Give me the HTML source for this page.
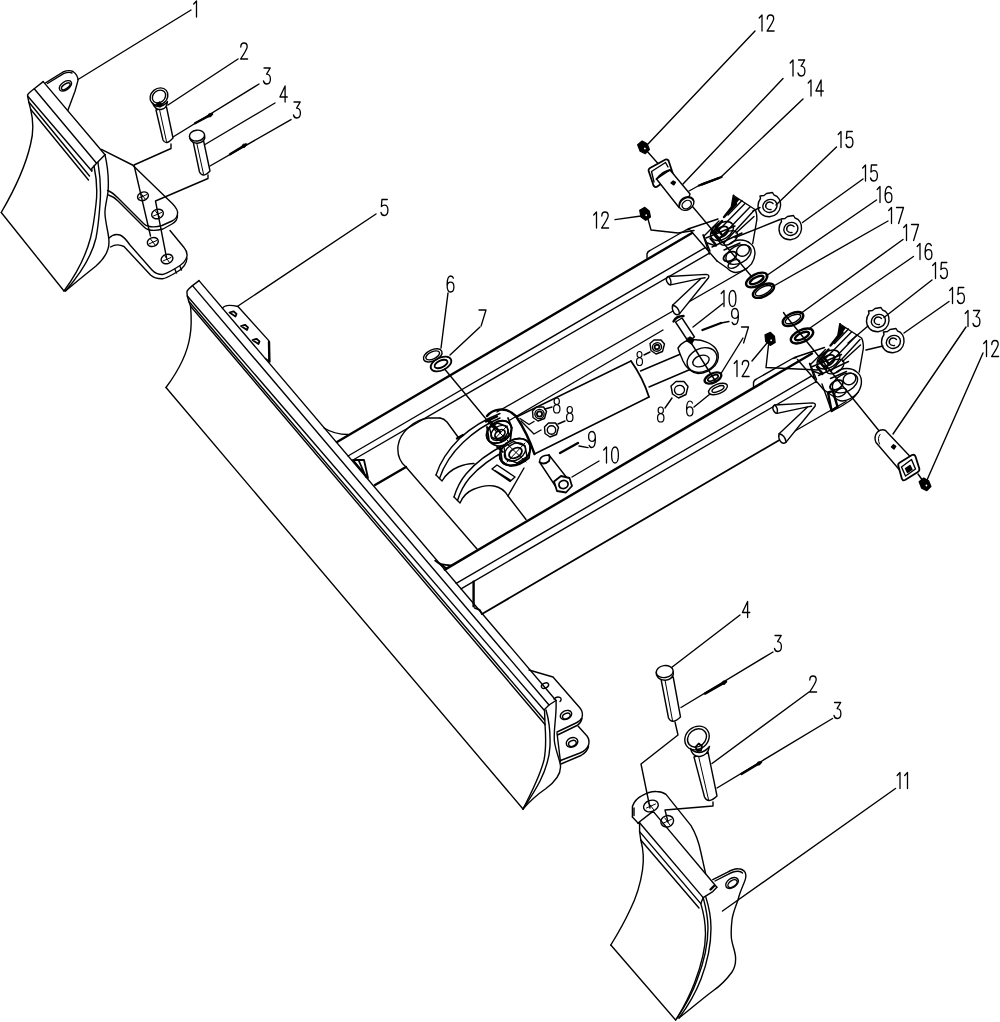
<!DOCTYPE html>
<html><head><meta charset="utf-8"><title>Blade assembly</title>
<style>
html,body{margin:0;padding:0;background:#fff;font-family:"Liberation Sans",sans-serif;}
svg{display:block}
svg *{fill:none;stroke:#000;stroke-width:1.4;stroke-linecap:round;stroke-linejoin:round}
svg .k{stroke-width:2.4}
svg .m{stroke-width:1.8}
svg .w{fill:#fff}
svg .b{fill:#000}
svg .t path{stroke-width:1.3}
svg .h{stroke-width:1}
</style></head><body>
<svg width="1000" height="1022" viewBox="0 0 1000 1022">
<rect x="0" y="0" width="1000" height="1022" style="fill:#fff;stroke:none"/>
<!-- labels -->
<g class="t"><path transform="translate(192.50,1.00) scale(1.000,1.000)" d="M1.2,3 L4,0 L4,16"/></g>
<g class="t"><path transform="translate(240.00,43.00) scale(1.000,1.000)" d="M0.8,4 C0.8,1.4 2,0 4,0 C6,0 7.2,1.4 7.2,3.8 C7.2,6 6,8 0.6,16 L7.6,16"/></g>
<g class="t"><path transform="translate(263.00,68.00) scale(1.000,1.000)" d="M1,0 L7.2,0 L3.6,6.2 C6,6.2 7.4,8 7.4,11 C7.4,14.2 6,16 3.8,16 C2,16 0.9,14.8 0.5,13"/></g>
<g class="t"><path transform="translate(279.50,86.00) scale(1.000,1.000)" d="M5.6,16 L5.6,0 L0.4,11 L7.8,11"/></g>
<g class="t"><path transform="translate(293.00,102.00) scale(1.000,1.000)" d="M1,0 L7.2,0 L3.6,6.2 C6,6.2 7.4,8 7.4,11 C7.4,14.2 6,16 3.8,16 C2,16 0.9,14.8 0.5,13"/></g>
<g class="t"><path transform="translate(380.50,199.50) scale(1.000,1.000)" d="M6.8,0 L1.4,0 L0.9,7 C1.8,6 2.8,5.6 4,5.6 C6.2,5.6 7.4,7.6 7.4,10.6 C7.4,14 6,16 3.8,16 C2,16 0.9,14.8 0.5,13"/></g>
<g class="t"><path transform="translate(446.50,276.00) scale(1.000,1.000)" d="M6.9,2.2 C6.5,0.8 5.5,0 4.2,0 C1.8,0 0.6,3 0.6,9 C0.6,14 1.8,16 4,16 C6.2,16 7.4,14 7.4,11 C7.4,8 6.2,6.2 4,6.2 C2,6.2 0.8,8 0.6,10.4"/></g>
<g class="t"><path transform="translate(478.50,310.00) scale(1.000,1.000)" d="M0.5,0 L7.5,0 L2.6,16"/></g>
<g class="t"><path transform="translate(758.00,15.00) scale(1.000,1.000)" d="M1.2,3 L4,0 L4,16"/><path transform="translate(766.50,15.00) scale(1.000,1.000)" d="M0.8,4 C0.8,1.4 2,0 4,0 C6,0 7.2,1.4 7.2,3.8 C7.2,6 6,8 0.6,16 L7.6,16"/></g>
<g class="t"><path transform="translate(789.00,60.00) scale(1.000,1.000)" d="M1.2,3 L4,0 L4,16"/><path transform="translate(797.50,60.00) scale(1.000,1.000)" d="M1,0 L7.2,0 L3.6,6.2 C6,6.2 7.4,8 7.4,11 C7.4,14.2 6,16 3.8,16 C2,16 0.9,14.8 0.5,13"/></g>
<g class="t"><path transform="translate(807.00,80.00) scale(1.000,1.000)" d="M1.2,3 L4,0 L4,16"/><path transform="translate(815.50,80.00) scale(1.000,1.000)" d="M5.6,16 L5.6,0 L0.4,11 L7.8,11"/></g>
<g class="t"><path transform="translate(837.00,131.50) scale(1.000,1.000)" d="M1.2,3 L4,0 L4,16"/><path transform="translate(845.50,131.50) scale(1.000,1.000)" d="M6.8,0 L1.4,0 L0.9,7 C1.8,6 2.8,5.6 4,5.6 C6.2,5.6 7.4,7.6 7.4,10.6 C7.4,14 6,16 3.8,16 C2,16 0.9,14.8 0.5,13"/></g>
<g class="t"><path transform="translate(861.50,165.00) scale(1.000,1.000)" d="M1.2,3 L4,0 L4,16"/><path transform="translate(870.00,165.00) scale(1.000,1.000)" d="M6.8,0 L1.4,0 L0.9,7 C1.8,6 2.8,5.6 4,5.6 C6.2,5.6 7.4,7.6 7.4,10.6 C7.4,14 6,16 3.8,16 C2,16 0.9,14.8 0.5,13"/></g>
<g class="t"><path transform="translate(876.00,186.50) scale(1.000,1.000)" d="M1.2,3 L4,0 L4,16"/><path transform="translate(884.50,186.50) scale(1.000,1.000)" d="M6.9,2.2 C6.5,0.8 5.5,0 4.2,0 C1.8,0 0.6,3 0.6,9 C0.6,14 1.8,16 4,16 C6.2,16 7.4,14 7.4,11 C7.4,8 6.2,6.2 4,6.2 C2,6.2 0.8,8 0.6,10.4"/></g>
<g class="t"><path transform="translate(887.50,207.50) scale(1.000,1.000)" d="M1.2,3 L4,0 L4,16"/><path transform="translate(896.00,207.50) scale(1.000,1.000)" d="M0.5,0 L7.5,0 L2.6,16"/></g>
<g class="t"><path transform="translate(902.50,224.50) scale(1.000,1.000)" d="M1.2,3 L4,0 L4,16"/><path transform="translate(911.00,224.50) scale(1.000,1.000)" d="M0.5,0 L7.5,0 L2.6,16"/></g>
<g class="t"><path transform="translate(916.00,243.50) scale(1.000,1.000)" d="M1.2,3 L4,0 L4,16"/><path transform="translate(924.50,243.50) scale(1.000,1.000)" d="M6.9,2.2 C6.5,0.8 5.5,0 4.2,0 C1.8,0 0.6,3 0.6,9 C0.6,14 1.8,16 4,16 C6.2,16 7.4,14 7.4,11 C7.4,8 6.2,6.2 4,6.2 C2,6.2 0.8,8 0.6,10.4"/></g>
<g class="t"><path transform="translate(931.50,262.50) scale(1.000,1.000)" d="M1.2,3 L4,0 L4,16"/><path transform="translate(940.00,262.50) scale(1.000,1.000)" d="M6.8,0 L1.4,0 L0.9,7 C1.8,6 2.8,5.6 4,5.6 C6.2,5.6 7.4,7.6 7.4,10.6 C7.4,14 6,16 3.8,16 C2,16 0.9,14.8 0.5,13"/></g>
<g class="t"><path transform="translate(948.50,287.50) scale(1.000,1.000)" d="M1.2,3 L4,0 L4,16"/><path transform="translate(957.00,287.50) scale(1.000,1.000)" d="M6.8,0 L1.4,0 L0.9,7 C1.8,6 2.8,5.6 4,5.6 C6.2,5.6 7.4,7.6 7.4,10.6 C7.4,14 6,16 3.8,16 C2,16 0.9,14.8 0.5,13"/></g>
<g class="t"><path transform="translate(964.00,310.50) scale(1.000,1.000)" d="M1.2,3 L4,0 L4,16"/><path transform="translate(972.50,310.50) scale(1.000,1.000)" d="M1,0 L7.2,0 L3.6,6.2 C6,6.2 7.4,8 7.4,11 C7.4,14.2 6,16 3.8,16 C2,16 0.9,14.8 0.5,13"/></g>
<g class="t"><path transform="translate(982.50,340.50) scale(1.000,1.000)" d="M1.2,3 L4,0 L4,16"/><path transform="translate(991.00,340.50) scale(1.000,1.000)" d="M0.8,4 C0.8,1.4 2,0 4,0 C6,0 7.2,1.4 7.2,3.8 C7.2,6 6,8 0.6,16 L7.6,16"/></g>
<g class="t"><path transform="translate(592.50,212.00) scale(1.000,1.000)" d="M1.2,3 L4,0 L4,16"/><path transform="translate(601.00,212.00) scale(1.000,1.000)" d="M0.8,4 C0.8,1.4 2,0 4,0 C6,0 7.2,1.4 7.2,3.8 C7.2,6 6,8 0.6,16 L7.6,16"/></g>
<g class="t"><path transform="translate(720.00,290.50) scale(1.000,1.000)" d="M1.2,3 L4,0 L4,16"/><path transform="translate(728.50,290.50) scale(1.000,1.000)" d="M4,0 C1.6,0 0.6,3 0.6,8 C0.6,13 1.6,16 4,16 C6.4,16 7.4,13 7.4,8 C7.4,3 6.4,0 4,0 Z"/></g>
<g class="t"><path transform="translate(731.00,308.50) scale(1.000,1.000)" d="M7.4,5.6 C7.2,8 6,9.8 4,9.8 C1.8,9.8 0.6,8 0.6,5 C0.6,2 1.8,0 4,0 C6.2,0 7.4,2 7.4,7 C7.4,13 6.2,16 3.8,16 C2.5,16 1.5,15.2 1.1,13.8"/></g>
<g class="t"><path transform="translate(741.00,327.00) scale(1.000,1.000)" d="M0.5,0 L7.5,0 L2.6,16"/></g>
<g class="t"><path transform="translate(733.00,360.50) scale(1.000,1.000)" d="M1.2,3 L4,0 L4,16"/><path transform="translate(741.50,360.50) scale(1.000,1.000)" d="M0.8,4 C0.8,1.4 2,0 4,0 C6,0 7.2,1.4 7.2,3.8 C7.2,6 6,8 0.6,16 L7.6,16"/></g>
<g class="t"><path transform="translate(636.00,351.50) scale(0.875,0.875)" d="M4,0 C2.2,0 1.2,1.4 1.2,3.4 C1.2,5.4 2.2,7 4,7 C5.8,7 6.8,5.4 6.8,3.4 C6.8,1.4 5.8,0 4,0 Z M4,7 C1.8,7 0.6,9 0.6,11.6 C0.6,14.4 1.8,16 4,16 C6.2,16 7.4,14.4 7.4,11.6 C7.4,9 6.2,7 4,7 Z"/></g>
<g class="t"><path transform="translate(553.00,398.00) scale(0.938,0.938)" d="M4,0 C2.2,0 1.2,1.4 1.2,3.4 C1.2,5.4 2.2,7 4,7 C5.8,7 6.8,5.4 6.8,3.4 C6.8,1.4 5.8,0 4,0 Z M4,7 C1.8,7 0.6,9 0.6,11.6 C0.6,14.4 1.8,16 4,16 C6.2,16 7.4,14.4 7.4,11.6 C7.4,9 6.2,7 4,7 Z"/></g>
<g class="t"><path transform="translate(566.00,406.50) scale(0.938,0.938)" d="M4,0 C2.2,0 1.2,1.4 1.2,3.4 C1.2,5.4 2.2,7 4,7 C5.8,7 6.8,5.4 6.8,3.4 C6.8,1.4 5.8,0 4,0 Z M4,7 C1.8,7 0.6,9 0.6,11.6 C0.6,14.4 1.8,16 4,16 C6.2,16 7.4,14.4 7.4,11.6 C7.4,9 6.2,7 4,7 Z"/></g>
<g class="t"><path transform="translate(657.00,407.00) scale(0.938,0.938)" d="M4,0 C2.2,0 1.2,1.4 1.2,3.4 C1.2,5.4 2.2,7 4,7 C5.8,7 6.8,5.4 6.8,3.4 C6.8,1.4 5.8,0 4,0 Z M4,7 C1.8,7 0.6,9 0.6,11.6 C0.6,14.4 1.8,16 4,16 C6.2,16 7.4,14.4 7.4,11.6 C7.4,9 6.2,7 4,7 Z"/></g>
<g class="t"><path transform="translate(686.00,401.00) scale(0.938,0.938)" d="M6.9,2.2 C6.5,0.8 5.5,0 4.2,0 C1.8,0 0.6,3 0.6,9 C0.6,14 1.8,16 4,16 C6.2,16 7.4,14 7.4,11 C7.4,8 6.2,6.2 4,6.2 C2,6.2 0.8,8 0.6,10.4"/></g>
<g class="t"><path transform="translate(588.00,431.50) scale(1.000,1.000)" d="M7.4,5.6 C7.2,8 6,9.8 4,9.8 C1.8,9.8 0.6,8 0.6,5 C0.6,2 1.8,0 4,0 C6.2,0 7.4,2 7.4,7 C7.4,13 6.2,16 3.8,16 C2.5,16 1.5,15.2 1.1,13.8"/></g>
<g class="t"><path transform="translate(602.50,447.00) scale(1.000,1.000)" d="M1.2,3 L4,0 L4,16"/><path transform="translate(611.00,447.00) scale(1.000,1.000)" d="M4,0 C1.6,0 0.6,3 0.6,8 C0.6,13 1.6,16 4,16 C6.4,16 7.4,13 7.4,8 C7.4,3 6.4,0 4,0 Z"/></g>
<g class="t"><path transform="translate(742.00,601.50) scale(1.000,1.000)" d="M5.6,16 L5.6,0 L0.4,11 L7.8,11"/></g>
<g class="t"><path transform="translate(774.00,635.50) scale(1.000,1.000)" d="M1,0 L7.2,0 L3.6,6.2 C6,6.2 7.4,8 7.4,11 C7.4,14.2 6,16 3.8,16 C2,16 0.9,14.8 0.5,13"/></g>
<g class="t"><path transform="translate(809.00,676.00) scale(1.000,1.000)" d="M0.8,4 C0.8,1.4 2,0 4,0 C6,0 7.2,1.4 7.2,3.8 C7.2,6 6,8 0.6,16 L7.6,16"/></g>
<g class="t"><path transform="translate(833.50,702.50) scale(1.000,1.000)" d="M1,0 L7.2,0 L3.6,6.2 C6,6.2 7.4,8 7.4,11 C7.4,14.2 6,16 3.8,16 C2,16 0.9,14.8 0.5,13"/></g>
<g class="t"><path transform="translate(896.00,772.50) scale(1.000,1.000)" d="M1.2,3 L4,0 L4,16"/><path transform="translate(903.50,772.50) scale(1.000,1.000)" d="M1.2,3 L4,0 L4,16"/></g>
<!-- leaders -->
<line x1="78" y1="79.5" x2="191" y2="10"/>
<line x1="168" y1="105" x2="238" y2="59"/>
<line x1="173" y1="137" x2="259" y2="84"/>
<line class="k" x1="195" y1="123.2" x2="212" y2="114.2"/>
<path class="b" style="stroke-width:0.6" d="M212.6,113.9 L210.7,117.0 L207.0,116.9 L208.9,113.7 Z"/>
<line x1="205" y1="144.5" x2="275" y2="103"/>
<line x1="210" y1="166" x2="291" y2="119.6"/>
<line class="k" x1="230" y1="154.2" x2="246" y2="144.6"/>
<path class="b" style="stroke-width:0.6" d="M246.6,144.2 L244.8,147.5 L241.1,147.5 L242.9,144.3 Z"/>
<line x1="238" y1="306" x2="376" y2="214"/>
<line x1="441" y1="348" x2="448" y2="293"/>
<line x1="450" y1="355" x2="480" y2="327"/>
<line x1="648" y1="144" x2="755" y2="31"/>
<line x1="683" y1="184" x2="783" y2="78.5"/>
<line x1="721" y1="177" x2="803" y2="99"/>
<line x1="776" y1="205" x2="836.5" y2="147"/>
<line x1="802.5" y1="222.5" x2="863" y2="179"/>
<line x1="766" y1="276" x2="876.5" y2="200"/>
<line x1="772" y1="287" x2="888" y2="221"/>
<line x1="800" y1="314" x2="903" y2="239.5"/>
<line x1="810" y1="328" x2="913.5" y2="256.5"/>
<line x1="884" y1="317.5" x2="932" y2="280"/>
<line x1="904" y1="333" x2="949" y2="301.5"/>
<line x1="893" y1="434" x2="966" y2="327"/>
<line x1="927" y1="480" x2="983" y2="353"/>
<line x1="615" y1="219.6" x2="641" y2="216"/>
<line x1="752" y1="361" x2="767" y2="343"/>
<line x1="721" y1="373.5" x2="743" y2="338"/>
<line x1="545" y1="409" x2="552" y2="407"/>
<line x1="558" y1="424" x2="565" y2="421"/>
<line x1="672" y1="398" x2="665" y2="408"/>
<line x1="650" y1="352" x2="644" y2="355"/>
<line x1="694" y1="407" x2="710" y2="394"/>
<line x1="572" y1="477" x2="599" y2="461"/>
<line x1="579" y1="446" x2="588" y2="447.6"/>
<line x1="667" y1="671" x2="740" y2="615"/>
<line x1="681" y1="707.5" x2="773" y2="652"/>
<line class="k" x1="705" y1="693.6" x2="726" y2="681.6"/>
<path class="b" style="stroke-width:0.6" d="M726.6,681.3 L724.8,684.5 L721.1,684.4 L722.9,681.2 Z"/>
<line x1="712" y1="763.5" x2="809" y2="692"/>
<line x1="717" y1="788" x2="832.5" y2="718.5"/>
<line class="k" x1="741.5" y1="774" x2="761" y2="762.2"/>
<path class="b" style="stroke-width:0.6" d="M761.6,761.8 L759.8,765.1 L756.1,765.2 L757.9,761.9 Z"/>
<line x1="722.5" y1="911" x2="895.5" y2="788.5"/>
<!-- main blade -->
<line x1="199" y1="280.6" x2="556" y2="700.5"/>
<line x1="192.5" y1="285.6" x2="549" y2="705"/>
<line x1="187.3" y1="296" x2="544" y2="710"/>
<line x1="188.75" y1="301.25" x2="544.5" y2="720"/>
<line x1="190.6" y1="306.25" x2="545" y2="724.5"/>
<path d="M199,280.6 L192.5,285.6 Q187,290 186.9,292 L187.3,296 L188.75,301.25 L190.6,306.25"/>
<path d="M190.6,306.25 C191.5,318 191.5,328 190,336 C188,350 182,366 166,387.5"/>
<line x1="166" y1="387.5" x2="523" y2="809"/>
<path d="M556,700.5 L549,705 L544.5,709.5 L545,724.5"/>
<path d="M556,700.5 C557,716 553,730 554.5,742 C556,752 560,760 560.5,766 C561,774 556,781 546,788.5 C538,794 530,801 523,809"/>
<path d="M546,710 C549,720 550.5,732 550,746 C549.5,757 545,771 540,781 C535,791 529,800 523,809"/>
<path d="M545,724.5 C546,738 546,750 544,760 C541,772 536,784 523,809"/>
<path d="M222.5,308.5 C224,305 229,304.5 238,306.5 L268.75,340.6 L269.4,361.5 L265.5,358.5"/>
<path class="k" d="M269,342 L269.4,361.5"/>
<path class="m" d="M229.5,312.5 l4,-1.2 l3,2.6 l-1,2.6 z M241,326 l4,-1.2 l3,2.6 l-1,2.6 z M252.5,340 l4,-1.2 l3,2.6 l-1,2.6 z"/>
<path d="M529,670 L553,677 L580,708 Q583.5,712.5 582,717.5 Q580.5,721 576,723 L557,732"/>
<path d="M582,718.5 Q581,723 577,725.5 L557.5,735"/>
<ellipse cx="545" cy="685.6" rx="3.8" ry="2.4" transform="rotate(-25 545 685.6)"/>
<path d="M554,699 a4,2.6 -25 1 1 6,2.6"/>
<ellipse cx="566" cy="715" rx="6" ry="4.3" transform="rotate(-25 566 715)"/>
<ellipse cx="566.4" cy="716" rx="4" ry="2.6" transform="rotate(-25 566.4 716)"/>
<path d="M578,726 L587,736 Q590,740 588.5,745 Q587,750 580,753 L560.5,760.5"/>
<path d="M588.5,746.5 Q587.5,751.5 581,755.5 L561,764"/>
<path d="M557,733 L560.5,762"/>
<ellipse cx="572" cy="742.4" rx="6" ry="4.6" transform="rotate(-25 572 742.4)"/>
<ellipse cx="572.4" cy="743.4" rx="4" ry="2.8" transform="rotate(-25 572.4 743.4)"/>
<!-- arms -->
<line class="k" x1="337" y1="442" x2="692" y2="233"/>
<path d="M324,428 C332,433 340,434.5 348,434.5"/>
<line x1="348" y1="456" x2="704.8" y2="247.8"/>
<line x1="353" y1="460" x2="709" y2="253.4"/>
<line x1="497" y1="412" x2="747" y2="268.5"/>
<line x1="510" y1="420" x2="663" y2="330"/>
<line class="k" x1="444.8" y1="569.6" x2="812" y2="353.5"/>
<path class="m" d="M435.2,560.6 C438,563.5 442,565 450.8,565.4 M438,562.8 L446,568"/>
<line x1="456.2" y1="583.4" x2="811.3" y2="376.2"/>
<line x1="461" y1="588.8" x2="815.5" y2="382"/>
<line class="m" x1="482" y1="614" x2="788" y2="435"/>
<line x1="788" y1="435" x2="846" y2="401.5"/>
<line class="k" x1="473.6" y1="581.6" x2="473.6" y2="606.2"/>
<path class="m" d="M474.8,608 L479.6,609.8 L482,614"/>
<line class="k" x1="375" y1="485" x2="406" y2="467"/>
<path class="m" d="M353,460 L364,460 L368,478 Z M358.5,460 L366,477"/>
<!-- part 1 -->
<line x1="43.2" y1="81.6" x2="105" y2="154.8"/>
<line x1="34.2" y1="88.8" x2="96.6" y2="163.2"/>
<line x1="27.6" y1="96" x2="91.8" y2="171"/>
<line x1="28.8" y1="102" x2="89.5" y2="176"/>
<line x1="30.6" y1="109.2" x2="88.5" y2="180"/>
<path d="M43.2,81.6 L34.2,88.8 Q28,93.5 27.6,95 L27.6,96 L28.8,102 L30.6,109.2"/>
<path d="M105,154.8 L96.6,163.2 L91.8,168.5 L91.8,171"/>
<path d="M45.6,82.8 L63,72 Q69,69.5 73,71.5 Q78,75 78,80.4 L75,91.2 L67.8,110.4"/>
<path d="M47.5,83.5 L63.5,73.6 Q69,71.5 72,73"/>
<ellipse cx="65.4" cy="85.8" rx="7" ry="4" transform="rotate(-35 65.4 85.8)"/>
<ellipse cx="65.8" cy="86.3" rx="5" ry="2.3" transform="rotate(-35 65.8 86.3)"/>
<path d="M30.6,109.2 C33.5,121 33.5,133 30.6,144 C27,160 19,182 1.25,212.5"/>
<line x1="1.25" y1="212.5" x2="64" y2="291"/>
<path d="M94,166 C97,180 97.5,192 96,204 C94.5,218 93,228 90.5,238 C86,255 78,272 64,291"/>
<path d="M98,162.5 C100.5,178 101,192 100,204 C99,218 98,228 96,238 C92,255 82,272 65.5,291"/>
<path d="M105,154.8 C108,168 109,180 108,192 C107,200 104.5,208 105,214 C105.5,224 109,234 109,242 C109,252 104,259 96,266 C86,274 76,282 65.5,291"/>
<path d="M101.4,149.4 L132.5,165 L172.5,203.75 Q178.5,210 177.5,214 Q177,218.5 172,221 L162,225.5 Q154,228 148,226 Q146,226 143.5,223.5 L117.5,197.5 Q112,192 107.5,190.5"/>
<path d="M177.5,215.5 Q177.5,221 172,224 L163,229 Q154,231.5 148,229.5 Q146,229 143.5,226.5 L118,201 Q113.5,196.5 108.5,195"/>
<ellipse cx="143" cy="196.3" rx="5.6" ry="4.2" transform="rotate(-20 143 196.3)"/>
<ellipse cx="157.5" cy="214" rx="6" ry="4.6" transform="rotate(-20 157.5 214)"/>
<path d="M109,238 Q114,233 120,235 Q124,236.5 130,245 L152,270 Q156,274.5 162.5,274.5 Q166,274 176,268 Q186,262.5 187,256 Q187.5,251.5 184,247.5 L170,230.5"/>
<path d="M110.5,247 Q117,243 124,246.5 L150.5,275 Q155,279 162.5,278.75 Q166,278.5 177,272 Q186.5,266.5 187,258"/>
<line x1="175" y1="269.5" x2="176.5" y2="273"/>
<line x1="180" y1="266.5" x2="181.5" y2="270"/>
<ellipse cx="152.8" cy="242" rx="5.6" ry="4.4" transform="rotate(-20 152.8 242)"/>
<ellipse cx="167" cy="259" rx="6" ry="4.6" transform="rotate(-20 167 259)"/>
<path class="h" d="M139,198 L147,194.5 M153.5,216 L161.5,212.5 M148.8,244 L156.8,240.5 M163,261 L171,257.5"/>
<path class="h" d="M141,193.5 L145.5,199.5 M155.5,211 L160,217.5 M150.5,239 L155.5,245.5 M165,256 L169.5,262.5"/>
<path d="M171,144 L171,148.5 L134,165 L150.5,236"/>
<path d="M208,175 L208,178.5 L155.5,201 L166.5,257.5"/>
<path class="w" d="M156,110 L163,140 Q166,146 173,138 L166.5,107 Z"/>
<path class="h" d="M159.5,109.5 L166.5,141.5"/>
<ellipse class="w" cx="159" cy="96.5" rx="9.5" ry="8" transform="rotate(-40 159 96.5)"/>
<ellipse cx="159" cy="96.5" rx="7.2" ry="5.8" transform="rotate(-40 159 96.5)"/>
<path class="w" d="M152.5,103 Q155,110 161,109.5 Q167,108.5 167.5,101.5 Q164,106 159,106.5 Q155,106.5 152.5,103 Z"/>
<path class="b" d="M156.5,104 l3,-2 l2.5,2.5 l-2,2.5 z"/>
<path class="w" d="M193,141 L199.5,172 Q203,178.5 210,171 L203.3,139.5 Z"/>
<path class="h" d="M196.5,142 L203.5,174"/>
<path class="w" d="M189.5,136 L189.8,138.5 Q191.5,143 197.5,143.3 Q203.5,142.5 204.8,138 L204.6,135.6"/>
<ellipse class="w" cx="197" cy="135.6" rx="7.6" ry="5.4" transform="rotate(-8 197 135.6)"/>
<!-- part 11 -->
<path d="M632.4,817 L632.4,806.4 Q635,799 642,795.6 Q650,791 656.4,791.5 Q662,791.5 666,794.4 L691,825.6 C696,834 699,843 700.8,852 L705.6,873.6"/>
<path d="M632.4,817 L638.4,823.5 M634,808 L634,815.5"/>
<path d="M638,823 L651.6,812.4 L654,812.4"/>
<ellipse cx="650.9" cy="806" rx="7.6" ry="5.6" transform="rotate(-20 650.9 806)"/>
<ellipse cx="667.2" cy="821.3" rx="6.5" ry="5.6" transform="rotate(-20 667.2 821.3)"/>
<path class="h" d="M646.5,808 L655.5,804 M648.5,803 L653.5,809.5 M663,823.3 L671.5,819.3 M664.8,818 L669.8,824.8"/>
<line x1="654" y1="812.4" x2="716.9" y2="887.3"/>
<line x1="639.6" y1="822.7" x2="703.2" y2="897.6"/>
<line x1="639.6" y1="831.6" x2="700.8" y2="903.6"/>
<line x1="640.8" y1="840" x2="699" y2="908"/>
<path d="M639.6,822.7 L639.6,831.6 L640.8,840"/>
<path d="M716.9,887.3 L712.8,891.6 L703.2,897.6 L700.8,903.6"/>
<path class="k" d="M714,886 L710.5,889.5"/>
<path d="M640.8,840 C643.5,850 644,860 642.5,870 C640.5,884 636,898 630,910 C624,923 617,935 610.8,945"/>
<line x1="610.8" y1="945" x2="675.6" y2="1020"/>
<path d="M703.2,897.6 C706,908 708,918 708,928 C708,945 704,962 697,980 C692,994 684,1008 675.6,1020"/>
<path d="M700.8,903.6 C704,914 705.5,924 705.5,934 C705.5,950 701,966 694.5,983 C689.5,996 682,1010 676.5,1019"/>
<path d="M705.6,896.4 C709,907 711,918 711,928 C711,946 707.5,962 701,979 C696,992 688,1006 679,1018"/>
<path d="M712.8,879.6 L727.2,872.4 Q734,868.5 738,868.8 Q743,869 745.2,872.4 Q747,877 744,883 C741,890 739,895 738,900 C735,908 732.5,914 732,920 C731,928 731,934 731.5,939 C732.5,946 735.5,952 735.6,958 C735.8,965 734,969 732,972 C727,979 720,986 712.8,991 C702,999 692,1008 679,1018"/>
<path d="M715,881 L728,874.4 Q734,871 738,871.2 Q741,871.4 742.5,873"/>
<ellipse cx="732" cy="883" rx="7" ry="4.6" transform="rotate(-35 732 883)"/>
<ellipse cx="732.5" cy="883.6" rx="5.2" ry="3" transform="rotate(-35 732.5 883.6)"/>
<path d="M675,722 L678,735 L641,764 L650,808"/>
<path d="M713,802 L713,806 L665,810 L668,822"/>
<path class="w" d="M661,679 L668.5,718 Q672,725 680.5,717 L673.2,677 Z"/>
<path class="h" d="M665,680 L672.5,720.5"/>
<path class="w" d="M656.2,672 L656.5,675 Q658.5,680 665.5,680.3 Q672,679.5 673.3,674.5 L673.2,671.6"/>
<ellipse class="w" cx="664.7" cy="671.6" rx="8.5" ry="6" transform="rotate(-8 664.7 671.6)"/>
<path class="w" d="M694,757 L704.5,797 Q708,804.5 717,796 L708,752 Z"/>
<path class="h" d="M698.5,756 L708.5,799.5"/>
<ellipse class="w" cx="697" cy="738" rx="13" ry="11" transform="rotate(-40 697 738)"/>
<ellipse cx="697" cy="738" rx="10.2" ry="8.4" transform="rotate(-40 697 738)"/>
<path class="w" d="M690.5,748.5 Q692.5,757 700,756.5 Q708,755 709.5,746.5 Q705,752 699.5,752.5 Q694,752.5 690.5,748.5 Z"/>
<path class="m" d="M695.5,747 l3.2,-3.5 l3.3,2.5 l-1,4.5 l-3.5,0.5 z"/>
<!-- center -->
<path d="M440,418 L428,418 C414,420 400,432 398,446 C397,456 400,462 406,467 L477,549"/>
<path d="M440,418 Q444,418.5 447,422 L458,437"/>
<line class="k" x1="457" y1="438.5" x2="463" y2="435"/>
<path d="M436,475 C440,462 448,450 460,438 C472,427 486,419 500,413.5"/>
<path d="M439.5,478.5 C443.5,466 451,454 463,442.5 C474,432 488,423 500,418"/>
<path d="M436,475 L442,481 C446,474 451,470 458,467 C464,464.5 470,463.5 474,463.5"/>
<path d="M454,497 C457,487 461,480 466,474 C476,462 490,452 506,444"/>
<path d="M457.5,500.5 C460.5,491 464.5,484 469.5,478 C479,467 492,457.5 508,449.5"/>
<path d="M454,497 L460,503 C463,496 467,492 473,489.5 C480,486.5 488,485 494,486 C500,487 505,491 508,496 L526,519.5"/>
<path d="M508,496 L524,468"/>
<path d="M492,469 L497,465 L515,477 L510,481.5 Z M495,470.5 L511,480.5"/>
<ellipse class="w" cx="499" cy="432" rx="13.5" ry="10" transform="rotate(-35 499 432)"/>
<ellipse class="m" cx="499" cy="432" rx="13.5" ry="10" transform="rotate(-35 499 432)"/>
<ellipse cx="499.5" cy="433" rx="9.5" ry="6.5" transform="rotate(-35 499.5 433)"/>
<ellipse class="m" cx="500" cy="434" rx="5.6" ry="3.6" transform="rotate(-35 500 434)"/>
<path class="m" d="M487,427 L489,441 Q497,450 510,443 L511.5,430"/>
<path d="M489.5,428 L497.5,423 L507,426.5 L509,435 L501,441 L492,437.5 Z"/>
<ellipse class="w" cx="515" cy="452" rx="16.5" ry="12" transform="rotate(-33 515 452)"/>
<ellipse class="m" cx="515" cy="452" rx="16.5" ry="12" transform="rotate(-33 515 452)"/>
<ellipse cx="515" cy="452" rx="11.5" ry="8" transform="rotate(-33 515 452)"/>
<ellipse class="m" cx="515.5" cy="453" rx="7" ry="4.6" transform="rotate(-33 515.5 453)"/>
<path class="m" d="M500,447 L502,461 Q512,472 529,458 L530.5,446"/>
<path d="M504,447 L513.5,441.5 L525,446 L527,456.5 L517,463 L506,458.5 Z"/>
<path class="h" d="M492,425 L508,441 M493.5,440 L507,426 M506,443 L526,462 M507,462 L525,443"/>
<path class="k" d="M487,416 C493,408.5 505,407.5 512,413 L517,417"/>
<path class="k" d="M486,421.5 L497,416.5 M489,420 L500,432"/>
<path class="m" d="M508,418 L512,428 M497,447 L503,452"/>
<line x1="444.6" y1="369" x2="496" y2="431"/>
<line x1="516.5" y1="417" x2="631" y2="361"/>
<line x1="534.5" y1="454" x2="649" y2="397"/>
<path class="k" d="M516.5,417 Q527.5,433.5 534.5,454"/>
<path class="m" d="M631,361 Q643,378 649,397"/>
<path d="M520,418.5 L529,424.5 L534,421.5 M521,421 L534,434 L541,430"/>
<path d="M532.5,411 L536.5,407 L543.5,407 L546.5,411.5 L544.5,418.5 L538,421 L533,417.5 Z"/>
<ellipse cx="539.5" cy="414" rx="4.6" ry="4.6" transform="rotate(0 539.5 414)"/>
<ellipse class="m" cx="539.5" cy="414" rx="2.6" ry="2.6" transform="rotate(0 539.5 414)"/>
<path d="M544.5,427 L548.5,423 L555.5,423 L558.5,427.5 L556.5,434.5 L550,437 L545,433.5 Z"/>
<ellipse cx="551.5" cy="430" rx="4.2" ry="4.2" transform="rotate(0 551.5 430)"/>
<line x1="640.5" y1="371" x2="683" y2="353"/>
<line x1="649" y1="387" x2="690" y2="369.5"/>
<path d="M650,343.5 L654,340 L661,340 L664.5,344 L662.5,351.5 L656,354 L651,350.5 Z"/>
<ellipse cx="657" cy="347" rx="4.6" ry="4.2" transform="rotate(-20 657 347)"/>
<ellipse class="m" cx="657" cy="347" rx="2.4" ry="2.2" transform="rotate(-20 657 347)"/>
<path d="M671,386 L676,381.5 L684,381.5 L688,386.5 L686,394.5 L678.5,398 L672.5,394 Z"/>
<ellipse cx="679.5" cy="390" rx="5" ry="4.6" transform="rotate(-20 679.5 390)"/>
<path class="w" d="M678,348 C682,342 688,339.5 694,339.8 C702,339.5 712,343 716,349 C719.5,354 719,361 715,365.5 C710,371 704,373.5 698,373.5 C692,373 686,368 683,361 C681,356 679,352 678,348 Z"/>
<ellipse cx="702" cy="360" rx="15.5" ry="11.5" transform="rotate(-25 702 360)"/>
<ellipse cx="701" cy="361" rx="8.5" ry="5.4" transform="rotate(-20 701 361)"/>
<path class="w" d="M675.5,322 L688,341 L694.5,337 L682,318 Z"/>
<path class="k" d="M673.5,321.5 Q676,316 683.5,316"/>
<path class="b" d="M686.5,340.5 l3.5,-3.5 l4,2.5 l-2.5,4.5 z"/>
<line x1="688" y1="338" x2="716" y2="382"/>
<ellipse class="k" cx="713" cy="378" rx="9" ry="4.6" transform="rotate(-25 713 378)"/>
<ellipse class="m" cx="713" cy="378" rx="5.6" ry="2.2" transform="rotate(-25 713 378)"/>
<ellipse cx="718" cy="389" rx="10" ry="4.8" transform="rotate(-22 718 389)"/>
<ellipse cx="718" cy="389" rx="6.4" ry="2.4" transform="rotate(-22 718 389)"/>
<ellipse cx="432.7" cy="355.4" rx="10" ry="5.6" transform="rotate(-25 432.7 355.4)"/>
<ellipse cx="432.7" cy="355.4" rx="7.4" ry="3.6" transform="rotate(-25 432.7 355.4)"/>
<ellipse class="m" cx="441" cy="364" rx="11" ry="6.4" transform="rotate(-25 441 364)"/>
<ellipse class="m" cx="441" cy="364" rx="7" ry="3.4" transform="rotate(-25 441 364)"/>
<line class="k" x1="560" y1="453" x2="578" y2="443"/>
<path class="w" d="M539.5,462 Q539.5,457 545,455.5 L549,455 L567,478 L556,487 Z"/>
<path class="m" d="M539.5,462 Q544,465.5 549,461 Q550.5,458 549,455"/>
<path class="w m" d="M554,481.5 L561,476 L569.5,478 L572,486 L566,492.5 L557,491 Z"/>
<ellipse class="m" cx="563.5" cy="484.5" rx="4.6" ry="4" transform="rotate(-20 563.5 484.5)"/>
<line class="k" x1="702.5" y1="330" x2="721" y2="323"/>
<line x1="721" y1="323" x2="729" y2="321.5"/>
<line x1="723" y1="303.5" x2="693" y2="327"/>
<!-- upper right hardware -->
<line x1="646" y1="150" x2="658" y2="163.5"/>
<g transform="translate(643.5,147.5) rotate(-35)"><path class="b" d="M-3.2,-5.5 L2.6,-6 L5,-1 L3.6,5 L-2,6 L-4.8,1 Z"/><circle cx="0.6" cy="1.6" r="0.9" style="fill:#fff;stroke:none"/></g>
<line x1="692.5" y1="206.5" x2="752" y2="277"/>
<g transform="translate(660,170)"><path class="w m" d="M-11.5,0.5 Q-11.5,-1 -10,-2 L5.5,-10.5 Q7,-11 8.5,-9.5 L13.5,5.5 L-3.5,17 Q-5.5,17.5 -6.5,15.5 Z"/><path d="M-6,12 L-8.5,1.5 L5.5,-7.5 L8,-3"/><path class="w" d="M10,0 L30,24 Q27,36 19,37.5 L-3.5,9 Z"/><path d="M10,0 Q3,1.5 -3.5,9" class="m"/><ellipse class="w" cx="26.5" cy="33.5" rx="8" ry="6.3" transform="rotate(-35 26.5 33.5)"/><path d="M19.5,35.5 Q20,29.5 27,27.5 Q32,27 33.2,30.5" /><ellipse cx="26.7" cy="34.6" rx="5" ry="3.8" transform="rotate(-35 26.7 34.6)"/><path class="b" d="M11,13 l2.2,-2 l2.2,1.4 l-1.6,2.4 z"/></g>
<line x1="689" y1="191" x2="699" y2="185.5"/>
<line class="k" x1="699" y1="185.5" x2="721.5" y2="177"/>
<line class="k" x1="702" y1="184.4" x2="719" y2="178"/>
<path d="M648,219 L651,230 L678,233 L694,230.5"/>
<g transform="translate(645,214) rotate(-25)"><path class="b" d="M-3.2,-5.5 L2.6,-6 L5,-1 L3.6,5 L-2,6 L-4.8,1 Z"/><circle cx="0.6" cy="1.6" r="0.9" style="fill:#fff;stroke:none"/></g>
<path d="M647,258 L647,254 Q647.5,251.5 650,250.5 L686,230 L690,229"/>
<path d="M688,229 L718,219 M691,231 L717,261 M703,235 L709.5,254"/>
<g transform="translate(0,0)"><path d="M733.5,195.5 L755,209.5 Q756.8,212 756.9,219.5 L752.7,243.5"/><path class="m" d="M725,215.5 L731.5,207 L733.5,195.5"/><path d="M734,197 L732,208 L738.5,199.5 Z" class="b"/><path d="M742,200.5 L728,215 M745,203.5 L716,233 M750,207 L720,238 M753.5,211 L724,243 M754,216.5 L736,233"/><path class="k" d="M736,204 L724,217 M722,221 L712,233"/><ellipse cx="722" cy="231" rx="12.5" ry="8" transform="rotate(-32 722 231)"/><ellipse class="m" cx="721.5" cy="232" rx="7.5" ry="4.6" transform="rotate(-32 721.5 232)"/><ellipse cx="728.5" cy="238" rx="10" ry="6" transform="rotate(-32 728.5 238)"/><path class="k" d="M713,233 L719.5,241 M716,227 L722,235 M710.5,238.5 L716,245"/><path d="M704,236 L719,221 M707.5,243 L716,246 M703.5,235 L710,251"/><path d="M730,243.5 C735,239 745,238.5 750.3,243.5 C756,247.5 756.5,256 751.5,263.9 C747,269 741,272 736,272.5 C732,272.5 729,270 727,268 L717,261"/><ellipse cx="738.5" cy="254.5" rx="13.5" ry="8.6" transform="rotate(-28 738.5 254.5)"/><ellipse class="m" cx="730" cy="256.5" rx="7" ry="4.2" transform="rotate(-28 730 256.5)"/><ellipse cx="743" cy="250.5" rx="6.6" ry="5.4" transform="rotate(-28 743 250.5)"/><ellipse cx="734" cy="264" rx="6.4" ry="3.6" transform="rotate(-28 734 264)"/><path d="M706,238 L735,226 M712,247 L742,233 M724,250 L740,243"/></g>
<g transform="translate(769.5,205)"><path d="M-3,-11.5 L3,-12.5 L4.5,-10 C9,-9 11.5,-4 11,1 C10.5,7 6,11.5 0,11.8 C-7,12 -11.5,7 -11.5,1 C-11.5,-2 -10.5,-4.5 -9,-6.5 L-9.5,-9 L-5.5,-9.5 Z"/><ellipse cx="0" cy="1" rx="7.2" ry="6.4" transform="rotate(-25)"/><path d="M3.5,-1.5 Q1,-4 -2,-2.5 Q-4.5,-0.5 -3.5,2.5 Q-2,5 1.5,4.5"/></g>
<g transform="translate(790.5,228)"><path d="M-3,-11.5 L3,-12.5 L4.5,-10 C9,-9 11.5,-4 11,1 C10.5,7 6,11.5 0,11.8 C-7,12 -11.5,7 -11.5,1 C-11.5,-2 -10.5,-4.5 -9,-6.5 L-9.5,-9 L-5.5,-9.5 Z"/><ellipse cx="0" cy="1" rx="7.2" ry="6.4" transform="rotate(-25)"/><path d="M3.5,-1.5 Q1,-4 -2,-2.5 Q-4.5,-0.5 -3.5,2.5 Q-2,5 1.5,4.5"/></g>
<line x1="735" y1="237.5" x2="780" y2="219.5"/>
<line x1="753" y1="211" x2="760" y2="207.5"/>
<ellipse class="k" cx="756.7" cy="280" rx="11.5" ry="5.8" transform="rotate(-27 756.7 280)"/>
<ellipse class="k" cx="756.7" cy="280" rx="7.4" ry="2.8" transform="rotate(-27 756.7 280)"/>
<ellipse class="k" cx="763.5" cy="290.7" rx="11.5" ry="5.6" transform="rotate(-27 763.5 290.7)"/>
<ellipse cx="763.5" cy="290.7" rx="9" ry="3.6" transform="rotate(-27 763.5 290.7)"/>
<g transform="translate(668,281)"><path class="w" d="M0.4,-4.5 L38.2,-6.6 Q41.8,-6.3 40.5,-3.2 L11.6,32.6 Q8.5,35 6,32 Q3.5,28 4.6,24.2 L33,-2.6 L2.5,3.9 Q-0.5,3.5 -1.7,-1 Q-1.5,-4 0.4,-4.5 Z"/><path d="M0.4,-4.5 Q4,-1 2.5,3.9 M4.6,24.2 Q10.5,25.5 11.6,32.6 M33,-2.6 L37,-3.2"/></g>
<!-- lower right hardware -->
<g transform="translate(774.5,409.5)"><path class="w" d="M0.4,-4.5 L38.2,-6.6 Q41.8,-6.3 40.5,-3.2 L11.6,32.6 Q8.5,35 6,32 Q3.5,28 4.6,24.2 L33,-2.6 L2.5,3.9 Q-0.5,3.5 -1.7,-1 Q-1.5,-4 0.4,-4.5 Z"/><path d="M0.4,-4.5 Q4,-1 2.5,3.9 M4.6,24.2 Q10.5,25.5 11.6,32.6 M33,-2.6 L37,-3.2"/></g>
<path d="M753.5,386.5 L753.5,382.5 Q754,380 756.5,379 L792.5,358.5 L796.5,357.5"/>
<path d="M794.5,357.5 L824.5,347.5 M797.5,359.5 L823.5,389.5 M809.5,363.5 L816,382.5"/>
<line x1="786" y1="316" x2="880" y2="432"/>
<g transform="translate(106.5,128.5)"><path d="M733.5,195.5 L755,209.5 Q756.8,212 756.9,219.5 L752.7,243.5"/><path class="m" d="M725,215.5 L731.5,207 L733.5,195.5"/><path d="M734,197 L732,208 L738.5,199.5 Z" class="b"/><path d="M742,200.5 L728,215 M745,203.5 L716,233 M750,207 L720,238 M753.5,211 L724,243 M754,216.5 L736,233"/><path class="k" d="M736,204 L724,217 M722,221 L712,233"/><ellipse cx="722" cy="231" rx="12.5" ry="8" transform="rotate(-32 722 231)"/><ellipse class="m" cx="721.5" cy="232" rx="7.5" ry="4.6" transform="rotate(-32 721.5 232)"/><ellipse cx="728.5" cy="238" rx="10" ry="6" transform="rotate(-32 728.5 238)"/><path class="k" d="M713,233 L719.5,241 M716,227 L722,235 M710.5,238.5 L716,245"/><path d="M704,236 L719,221 M707.5,243 L716,246 M703.5,235 L710,251"/><path d="M730,243.5 C735,239 745,238.5 750.3,243.5 C756,247.5 756.5,256 751.5,263.9 C747,269 741,272 736,272.5 C732,272.5 729,270 727,268 L717,261"/><ellipse cx="738.5" cy="254.5" rx="13.5" ry="8.6" transform="rotate(-28 738.5 254.5)"/><ellipse class="m" cx="730" cy="256.5" rx="7" ry="4.2" transform="rotate(-28 730 256.5)"/><ellipse cx="743" cy="250.5" rx="6.6" ry="5.4" transform="rotate(-28 743 250.5)"/><ellipse cx="734" cy="264" rx="6.4" ry="3.6" transform="rotate(-28 734 264)"/><path d="M706,238 L735,226 M712,247 L742,233 M724,250 L740,243"/></g>
<path d="M858,392.4 C854,398 850,401 847.2,402.5 C842,406 837,409 831.6,411 L822,384"/>
<path class="k" d="M828,392.4 L832.8,391.2 L837.6,406.8 L831.6,411 Z"/>
<path d="M768.5,345 L766,367.5 L818,370"/>
<g transform="translate(770,339) rotate(-20)"><path class="b" d="M-3.2,-5.5 L2.6,-6 L5,-1 L3.6,5 L-2,6 L-4.8,1 Z"/><circle cx="0.6" cy="1.6" r="0.9" style="fill:#fff;stroke:none"/></g>
<ellipse class="k" cx="793" cy="319" rx="11" ry="5.8" transform="rotate(-25 793 319)"/>
<ellipse cx="793" cy="319" rx="8.4" ry="3.6" transform="rotate(-25 793 319)"/>
<line x1="783.5" y1="312.5" x2="785.5" y2="315.5"/>
<ellipse class="k" cx="802" cy="336" rx="12" ry="6" transform="rotate(-25 802 336)"/>
<ellipse class="k" cx="802" cy="336" rx="7.6" ry="3" transform="rotate(-25 802 336)"/>
<g transform="translate(878,320)"><path d="M-3,-11.5 L3,-12.5 L4.5,-10 C9,-9 11.5,-4 11,1 C10.5,7 6,11.5 0,11.8 C-7,12 -11.5,7 -11.5,1 C-11.5,-2 -10.5,-4.5 -9,-6.5 L-9.5,-9 L-5.5,-9.5 Z"/><ellipse cx="0" cy="1" rx="7.2" ry="6.4" transform="rotate(-25)"/><path d="M3.5,-1.5 Q1,-4 -2,-2.5 Q-4.5,-0.5 -3.5,2.5 Q-2,5 1.5,4.5"/></g>
<g transform="translate(893,341)"><path d="M-3,-11.5 L3,-12.5 L4.5,-10 C9,-9 11.5,-4 11,1 C10.5,7 6,11.5 0,11.8 C-7,12 -11.5,7 -11.5,1 C-11.5,-2 -10.5,-4.5 -9,-6.5 L-9.5,-9 L-5.5,-9.5 Z"/><ellipse cx="0" cy="1" rx="7.2" ry="6.4" transform="rotate(-25)"/><path d="M3.5,-1.5 Q1,-4 -2,-2.5 Q-4.5,-0.5 -3.5,2.5 Q-2,5 1.5,4.5"/></g>
<line x1="848" y1="343" x2="868" y2="326"/>
<line x1="866" y1="350" x2="883" y2="346"/>
<line x1="918" y1="474" x2="923" y2="481"/>
<path class="w" d="M876,442.5 Q873.5,436.5 877.5,432 Q881.5,428.5 885.5,430.5 L912,458.5 L900,470.5 Z"/>
<path class="h" d="M879.5,444 Q877,438 880,434.5"/>
<path class="b" d="M891.5,447 l2,-2.2 l2.2,1.6 l-1.8,2.6 z"/>
<path class="w m" d="M898.5,466.5 Q897.5,464 899.5,462.8 L912,455 Q914.5,454 915.5,456.5 L919.3,468.5 Q919.8,471 917.5,472.3 L905,480 Q902.5,481 901.8,478.5 Z"/>
<path d="M901.5,467 L911.5,459.5 L915.5,469 L905.5,476 Z"/>
<path class="b" d="M905.5,468.5 L910,465.5 L912,469.5 L907.5,472.5 Z"/>
<g transform="translate(925,484.5) rotate(-35)"><path class="b" d="M-3.2,-5.5 L2.6,-6 L5,-1 L3.6,5 L-2,6 L-4.8,1 Z"/><circle cx="0.6" cy="1.6" r="0.9" style="fill:#fff;stroke:none"/></g>
</svg>
</body></html>
